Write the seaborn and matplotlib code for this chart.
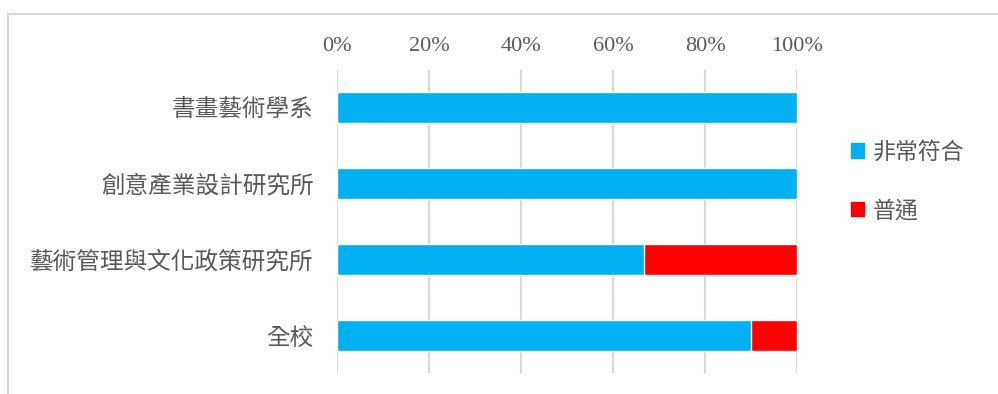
import matplotlib
matplotlib.use("Agg")
import matplotlib.pyplot as plt
import matplotlib.patches as mpatches
import seaborn as sns
import pandas as pd

categories = ["書畫藝術學系", "創意產業設計研究所", "藝術管理與文化政策研究所", "全校"]
very_match = [100.0, 100.0, 66.7, 90.0]   # 非常符合
normal     = [0.0, 0.0, 33.3, 10.0]       # 普通
xticks = [0, 20, 40, 60, 80, 100]

BLUE = "#00B0F0"
RED  = "#FF0000"
GREY_TEXT = "#595959"
GRID = "#D9D9D9"

sns.set_style("white")
plt.rcParams['font.family'] = ['Noto Sans CJK TC', 'DejaVu Sans']

df = pd.DataFrame({"cat": categories, "blue": very_match,
                   "total": [b + r for b, r in zip(very_match, normal)]})

fig = plt.figure(figsize=(9.98, 3.94), dpi=100)
ax = fig.add_axes([337 / 998, 1 - 373 / 394, 460 / 998, 303 / 394])

# stacked: draw full total in red, then blue part on top
sns.barplot(data=df, x="total", y="cat", orient="h", color=RED, width=0.4,
            saturation=1, ax=ax)
sns.barplot(data=df, x="blue", y="cat", orient="h", color=BLUE, width=0.4,
            saturation=1, ax=ax)

ax.set_xlim(0, 100)
ax.set_ylim(3.49, -0.49)
ax.set_xticks(xticks)
ax.set_xticklabels([f"{t}%" for t in xticks], family=['Liberation Serif'],
                   fontsize=16, color=GREY_TEXT)
ax.xaxis.tick_top()
ax.tick_params(axis="x", length=0, pad=10)
ax.tick_params(axis="y", length=0, pad=17, labelsize=17, labelcolor=GREY_TEXT)
ax.set_xlabel("")
ax.set_ylabel("")
ax.xaxis.grid(True, color=GRID, linewidth=1.5)
ax.set_axisbelow(True)
for s in ax.spines.values():
    s.set_visible(False)

handles = [mpatches.Patch(color=BLUE, label="非常符合"),
           mpatches.Patch(color=RED, label="普通")]
leg = fig.legend(handles=handles, loc="upper left",
                 bbox_to_anchor=(830 / 998, 1 - 120 / 394), frameon=False,
                 fontsize=16.5, labelcolor=GREY_TEXT, handlelength=0.6,
                 handleheight=0.6, handletextpad=0.35, labelspacing=1.55)

# outer chart border
fig.patches.append(mpatches.Rectangle((8 / 998, -0.1), 1.1, 1 - 14 / 394 + 0.1,
                                      transform=fig.transFigure, fill=False,
                                      edgecolor=GRID, linewidth=1.5))

fig.savefig("out.png", dpi=100)
